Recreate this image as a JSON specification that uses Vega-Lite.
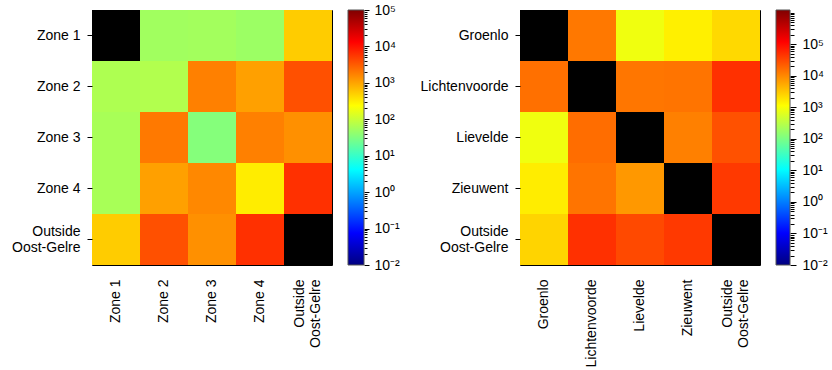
{
  "$schema": "https://vega.github.io/schema/vega-lite/v6.json",
  "padding": {"left": 11, "top": 3, "right": 5, "bottom": 5},
  "background": "white",
  "config": {
    "font": "Liberation Sans",
    "view": {"stroke": null},
    "axis": {"labelFont": "Liberation Sans", "labelFontSize": 14, "labelColor": "black", "tickColor": "black", "domain": false, "grid": false, "title": null, "labelLimit": 300}
  },
  "resolve": {"scale": {"color": "independent"}},
  "datasets": {
    "zones": [
      {"row": "Zone 1", "col": "Zone 1", "v": null},
      {"row": "Zone 1", "col": "Zone 2", "v": 53},
      {"row": "Zone 1", "col": "Zone 3", "v": 55},
      {"row": "Zone 1", "col": "Zone 4", "v": 49},
      {"row": "Zone 1", "col": "Outside Oost-Gelre", "v": 530},
      {"row": "Zone 2", "col": "Zone 1", "v": 66},
      {"row": "Zone 2", "col": "Zone 2", "v": 70},
      {"row": "Zone 2", "col": "Zone 3", "v": 1780},
      {"row": "Zone 2", "col": "Zone 4", "v": 1070},
      {"row": "Zone 2", "col": "Outside Oost-Gelre", "v": 3760},
      {"row": "Zone 3", "col": "Zone 1", "v": 60},
      {"row": "Zone 3", "col": "Zone 2", "v": 2000},
      {"row": "Zone 3", "col": "Zone 3", "v": 34},
      {"row": "Zone 3", "col": "Zone 4", "v": 1780},
      {"row": "Zone 3", "col": "Outside Oost-Gelre", "v": 1380},
      {"row": "Zone 4", "col": "Zone 1", "v": 60},
      {"row": "Zone 4", "col": "Zone 2", "v": 1070},
      {"row": "Zone 4", "col": "Zone 3", "v": 1560},
      {"row": "Zone 4", "col": "Zone 4", "v": 315},
      {"row": "Zone 4", "col": "Outside Oost-Gelre", "v": 6300},
      {"row": "Outside Oost-Gelre", "col": "Zone 1", "v": 530},
      {"row": "Outside Oost-Gelre", "col": "Zone 2", "v": 3760},
      {"row": "Outside Oost-Gelre", "col": "Zone 3", "v": 1380},
      {"row": "Outside Oost-Gelre", "col": "Zone 4", "v": 6300},
      {"row": "Outside Oost-Gelre", "col": "Outside Oost-Gelre", "v": null}
    ],
    "towns": [
      {"row": "Groenlo", "col": "Groenlo", "v": null},
      {"row": "Groenlo", "col": "Lichtenvoorde", "v": 13400},
      {"row": "Groenlo", "col": "Lievelde", "v": 860},
      {"row": "Groenlo", "col": "Zieuwent", "v": 1500},
      {"row": "Groenlo", "col": "Outside Oost-Gelre", "v": 2300},
      {"row": "Lichtenvoorde", "col": "Groenlo", "v": 15500},
      {"row": "Lichtenvoorde", "col": "Lichtenvoorde", "v": null},
      {"row": "Lichtenvoorde", "col": "Lievelde", "v": 14000},
      {"row": "Lichtenvoorde", "col": "Zieuwent", "v": 14500},
      {"row": "Lichtenvoorde", "col": "Outside Oost-Gelre", "v": 50000},
      {"row": "Lievelde", "col": "Groenlo", "v": 860},
      {"row": "Lievelde", "col": "Lichtenvoorde", "v": 16600},
      {"row": "Lievelde", "col": "Lievelde", "v": null},
      {"row": "Lievelde", "col": "Zieuwent", "v": 11700},
      {"row": "Lievelde", "col": "Outside Oost-Gelre", "v": 27500},
      {"row": "Zieuwent", "col": "Groenlo", "v": 1580},
      {"row": "Zieuwent", "col": "Lichtenvoorde", "v": 14500},
      {"row": "Zieuwent", "col": "Lievelde", "v": 7500},
      {"row": "Zieuwent", "col": "Zieuwent", "v": null},
      {"row": "Zieuwent", "col": "Outside Oost-Gelre", "v": 42700},
      {"row": "Outside Oost-Gelre", "col": "Groenlo", "v": 2500},
      {"row": "Outside Oost-Gelre", "col": "Lichtenvoorde", "v": 50000},
      {"row": "Outside Oost-Gelre", "col": "Lievelde", "v": 32000},
      {"row": "Outside Oost-Gelre", "col": "Zieuwent", "v": 42700},
      {"row": "Outside Oost-Gelre", "col": "Outside Oost-Gelre", "v": null}
    ],
    "cbz": [{"lo": 0.01, "hi": 100000, "x0": 0, "x1": 1}],
    "cbt": [{"lo": 0.01, "hi": 1230000, "x0": 0, "x1": 1}]
  },
  "spacing": 14,
  "hconcat": [
    {
      "width": 240,
      "height": 255,
      "data": {"name": "zones"},
      "view": {"stroke": "black", "strokeWidth": 1},
      "encoding": {
        "x": {"field": "col", "type": "nominal", "sort": ["Zone 1", "Zone 2", "Zone 3", "Zone 4", "Outside Oost-Gelre"],
              "axis": {"labelAngle": -90, "labelAlign": "right", "labelBaseline": "middle", "ticks": false, "labelPadding": 14, "labelLineHeight": 16,
                       "labelOffset": {"condition": {"test": "datum.value == 'Outside Oost-Gelre'", "value": -8}, "value": 0},
                       "labelExpr": "datum.label == 'Outside Oost-Gelre' ? ['Outside', 'Oost-Gelre'] : datum.label"}},
        "y": {"field": "row", "type": "nominal", "sort": ["Zone 1", "Zone 2", "Zone 3", "Zone 4", "Outside Oost-Gelre"],
              "axis": {"ticks": true, "tickSize": 5, "labelPadding": 7, "labelLineHeight": 16,
                       "labelOffset": {"condition": {"test": "datum.value == 'Outside Oost-Gelre'", "value": -8}, "value": 0},
                       "labelExpr": "datum.label == 'Outside Oost-Gelre' ? ['Outside', 'Oost-Gelre'] : datum.label"}}
      },
      "layer": [
        {"transform": [{"filter": "datum.v == null"}], "mark": {"type": "rect", "color": "black"}},
        {
          "transform": [{"filter": "datum.v != null"}],
          "mark": {"type": "rect"},
          "encoding": {
            "color": {"field": "v", "type": "quantitative", "legend": null,
                      "scale": {"type": "log", "nice": false, "zero": false, "interpolate": "rgb",
                                "domain": [0.01, 0.074989, 0.562341, 4.21697, 31.6228, 237.137, 1778.28, 13335.2, 100000],
                                "range": ["#000080", "#0000ff", "#0080ff", "#00ffff", "#80ff80", "#ffff00", "#ff8000", "#ff0000", "#800000"]}}
          }
        }
      ]
    },
    {
      "width": 16,
      "height": 255,
      "data": {"name": "cbz"},
      "encoding": {
        "x": {"field": "x0", "type": "quantitative", "scale": {"domain": [0, 1], "nice": false, "zero": false}, "axis": null},
        "x2": {"field": "x1"},
        "y2": {"field": "hi"}
      },
      "layer": [
        {
          "mark": {"type": "rect", "stroke": "#555555", "strokeWidth": 1,
                   "fill": {"gradient": "linear", "x1": 0, "y1": 1, "x2": 0, "y2": 0,
                            "stops": [
                              {"offset": 0, "color": "#000080"}, {"offset": 0.125, "color": "#0000ff"},
                              {"offset": 0.25, "color": "#0080ff"}, {"offset": 0.375, "color": "#00ffff"},
                              {"offset": 0.5, "color": "#80ff80"}, {"offset": 0.625, "color": "#ffff00"},
                              {"offset": 0.75, "color": "#ff8000"}, {"offset": 0.875, "color": "#ff0000"},
                              {"offset": 1, "color": "#800000"}]}},
          "encoding": {
            "y": {"field": "lo", "type": "quantitative",
                  "scale": {"type": "log", "domain": [0.01, 100000], "nice": false, "zero": false},
                  "axis": {"orient": "right", "values": [0.01, 0.1, 1, 10, 100, 1000, 10000, 100000], "tickSize": 5, "labelPadding": 5, "labelAlign": "left", "labelBaseline": "middle", "minExtent": 41,
                           "labelExpr": "['10⁻²','10⁻¹','10⁰','10¹','10²','10³','10⁴','10⁵','10⁶'][round(log(datum.value)/LN10)+2]"}}
          }
        },
        {
          "mark": {"type": "rect", "fillOpacity": 0, "strokeOpacity": 0},
          "encoding": {
            "y": {"field": "lo", "type": "quantitative",
                  "scale": {"type": "log", "domain": [0.01, 100000], "nice": false, "zero": false},
                  "axis": {"orient": "right", "labels": false, "tickSize": 3,
                           "values": [0.02,0.03,0.04,0.05,0.06,0.07,0.08,0.09,0.2,0.3,0.4,0.5,0.6,0.7,0.8,0.9,2,3,4,5,6,7,8,9,20,30,40,50,60,70,80,90,200,300,400,500,600,700,800,900,2000,3000,4000,5000,6000,7000,8000,9000,20000,30000,40000,50000,60000,70000,80000,90000]}}
          }
        }
      ],
      "resolve": {"axis": {"y": "independent"}}
    },
    {
      "width": 240,
      "height": 255,
      "data": {"name": "towns"},
      "view": {"stroke": "black", "strokeWidth": 1},
      "encoding": {
        "x": {"field": "col", "type": "nominal", "sort": ["Groenlo", "Lichtenvoorde", "Lievelde", "Zieuwent", "Outside Oost-Gelre"],
              "axis": {"labelAngle": -90, "labelAlign": "right", "labelBaseline": "middle", "ticks": false, "labelPadding": 14, "labelLineHeight": 16,
                       "labelOffset": {"condition": {"test": "datum.value == 'Outside Oost-Gelre'", "value": -8}, "value": 0},
                       "labelExpr": "datum.label == 'Outside Oost-Gelre' ? ['Outside', 'Oost-Gelre'] : datum.label"}},
        "y": {"field": "row", "type": "nominal", "sort": ["Groenlo", "Lichtenvoorde", "Lievelde", "Zieuwent", "Outside Oost-Gelre"],
              "axis": {"ticks": true, "tickSize": 5, "labelPadding": 7, "labelLineHeight": 16,
                       "labelOffset": {"condition": {"test": "datum.value == 'Outside Oost-Gelre'", "value": -8}, "value": 0},
                       "labelExpr": "datum.label == 'Outside Oost-Gelre' ? ['Outside', 'Oost-Gelre'] : datum.label"}}
      },
      "layer": [
        {"transform": [{"filter": "datum.v == null"}], "mark": {"type": "rect", "color": "black"}},
        {
          "transform": [{"filter": "datum.v != null"}],
          "mark": {"type": "rect"},
          "encoding": {
            "color": {"field": "v", "type": "quantitative", "legend": null,
                      "scale": {"type": "log", "nice": false, "zero": false, "interpolate": "rgb",
                                "domain": [0.01, 0.102624, 1.05317, 10.8081, 110.917, 1138.28, 11681.5, 119880, 1230270],
                                "range": ["#000080", "#0000ff", "#0080ff", "#00ffff", "#80ff80", "#ffff00", "#ff8000", "#ff0000", "#800000"]}}
          }
        }
      ]
    },
    {
      "width": 14,
      "height": 255,
      "data": {"name": "cbt"},
      "encoding": {
        "x": {"field": "x0", "type": "quantitative", "scale": {"domain": [0, 1], "nice": false, "zero": false}, "axis": null},
        "x2": {"field": "x1"},
        "y2": {"field": "hi"}
      },
      "layer": [
        {
          "mark": {"type": "rect", "stroke": "#555555", "strokeWidth": 1,
                   "fill": {"gradient": "linear", "x1": 0, "y1": 1, "x2": 0, "y2": 0,
                            "stops": [
                              {"offset": 0, "color": "#000080"}, {"offset": 0.125, "color": "#0000ff"},
                              {"offset": 0.25, "color": "#0080ff"}, {"offset": 0.375, "color": "#00ffff"},
                              {"offset": 0.5, "color": "#80ff80"}, {"offset": 0.625, "color": "#ffff00"},
                              {"offset": 0.75, "color": "#ff8000"}, {"offset": 0.875, "color": "#ff0000"},
                              {"offset": 1, "color": "#800000"}]}},
          "encoding": {
            "y": {"field": "lo", "type": "quantitative",
                  "scale": {"type": "log", "domain": [0.01, 1230000], "nice": false, "zero": false},
                  "axis": {"orient": "right", "values": [0.01, 0.1, 1, 10, 100, 1000, 10000, 100000], "tickSize": 6, "labelPadding": 6, "labelAlign": "left", "labelBaseline": "middle",
                           "labelExpr": "['10⁻²','10⁻¹','10⁰','10¹','10²','10³','10⁴','10⁵','10⁶'][round(log(datum.value)/LN10)+2]"}}
          }
        },
        {
          "mark": {"type": "rect", "fillOpacity": 0, "strokeOpacity": 0},
          "encoding": {
            "y": {"field": "lo", "type": "quantitative",
                  "scale": {"type": "log", "domain": [0.01, 1230000], "nice": false, "zero": false},
                  "axis": {"orient": "right", "labels": false, "tickSize": 4,
                           "values": [0.02,0.03,0.04,0.05,0.06,0.07,0.08,0.09,0.2,0.3,0.4,0.5,0.6,0.7,0.8,0.9,2,3,4,5,6,7,8,9,20,30,40,50,60,70,80,90,200,300,400,500,600,700,800,900,2000,3000,4000,5000,6000,7000,8000,9000,20000,30000,40000,50000,60000,70000,80000,90000,200000,300000,400000,500000,600000,700000,800000,900000,1000000]}}
          }
        }
      ],
      "resolve": {"axis": {"y": "independent"}}
    }
  ]
}
